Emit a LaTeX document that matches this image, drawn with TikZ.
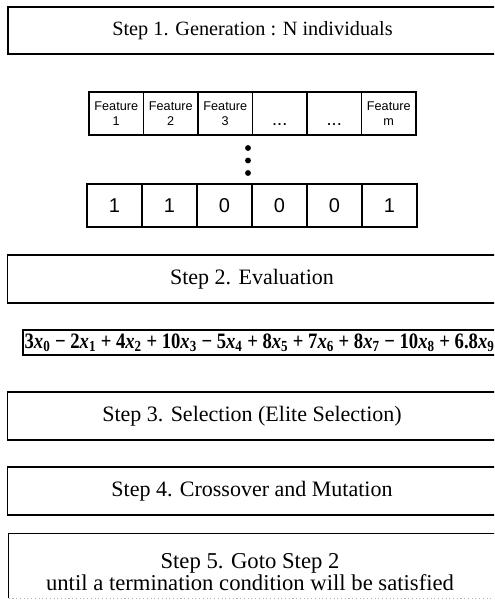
\documentclass[tikz,border=0pt]{standalone}
\usepackage{fontspec}
\setmainfont{Liberation Serif}
\newfontfamily\featfont{Liberation Sans}
% bold italic variable with a bold subscript
\newcommand{\xv}[1]{\textit{x}\textsubscript{#1}}
\begin{document}
\begin{tikzpicture}[x=0.75pt,y=-0.75pt,
  stepbox/.style={draw, line width=1pt, minimum width=366.75pt, minimum height=36pt, inner sep=0pt,
    font=\fontsize{16.5}{20}\selectfont},
  featcell/.style={draw, line width=0.8pt, minimum width=40.9pt, minimum height=32.25pt, inner sep=0pt,
    align=center, font=\featfont\fontsize{9.5}{11.3}\selectfont},
  bitcell/.style={draw, line width=0.9pt, minimum width=41.25pt, minimum height=32.25pt, inner sep=0pt,
    font=\featfont\fontsize{15}{18}\selectfont},
  vdot/.style={circle, fill, inner sep=0pt, minimum size=4.4pt}]
\useasboundingbox (0,0) rectangle (494,605);
\clip (0,0) rectangle (494,605);

% Step 1
\node[stepbox, minimum height=35.25pt, font=\fontsize{15.2}{19}\selectfont] (s1) at (252.5,30.5)
  {Step 1. Generation : N individuals};

% chromosome layout: feature header row
\foreach \i/\t in {1/{Feature\\1},2/{Feature\\2},3/{Feature\\3},4/{\phantom{Feature}\\\textbf{.\hspace{1.2pt}.\hspace{1.2pt}.}},5/{\phantom{Feature}\\\textbf{.\hspace{1.2pt}.\hspace{1.2pt}.}},6/{Feature\\m}}
  \node[featcell] (f\i) at ({89+27.25+54.5*(\i-1)},113.5) {\t};

% vertical ellipsis
\node[vdot] (d1) at (248,148) {};
\node[vdot] (d2) at (248,160.5) {};
\node[vdot] (d3) at (248,173) {};

% bit string row
\foreach \i/\b in {1/1,2/1,3/0,4/0,5/0,6/1}
  \node[bitcell] (b\i) at ({87+27.5+55*(\i-1)},205.5) {\b};

% Step 2
\node[stepbox] (s2) at (252,279) {Step 2. Evaluation};

% fitness function, in a box that runs on past the right edge
\node[draw, line width=0.9pt, minimum width=367.5pt, minimum height=18.75pt, inner sep=0pt] (eqbox) at (268,342.5) {};
\node[anchor=west, inner xsep=1.5pt, inner ysep=0pt, font=\bfseries\fontsize{16.5}{20}\selectfont] (eq)
  at (eqbox.west)
  {\scalebox{0.848}[1]{3\xv{0} − 2\xv{1} + 4\xv{2} + 10\xv{3} − 5\xv{4} + 8\xv{5} + 7\xv{6} + 8\xv{7} − 10\xv{8} + 6.8\xv{9}}};

% Step 3 and Step 4
\node[stepbox] (s3) at (252,416) {Step 3. Selection (Elite Selection)};
\node[stepbox] (s4) at (252,491) {Step 4. Crossover and Mutation};

% Step 5: open box with a faint dotted bottom edge
\node[minimum width=366pt, minimum height=48pt, inner sep=0pt] (s5) at (253,566) {};
\draw[line width=1pt] (s5.south west) -- (s5.north west) -- (s5.north east) -- (s5.south east);
\draw[gray!60, dotted, line width=0.8pt] (s5.south west) -- (s5.south east);
\node[align=center, font=\fontsize{17}{16.5}\selectfont] (t5) at (250,572)
  {Step 5. Goto Step 2\\until a termination condition will be satisfied};
\end{tikzpicture}
\end{document}
